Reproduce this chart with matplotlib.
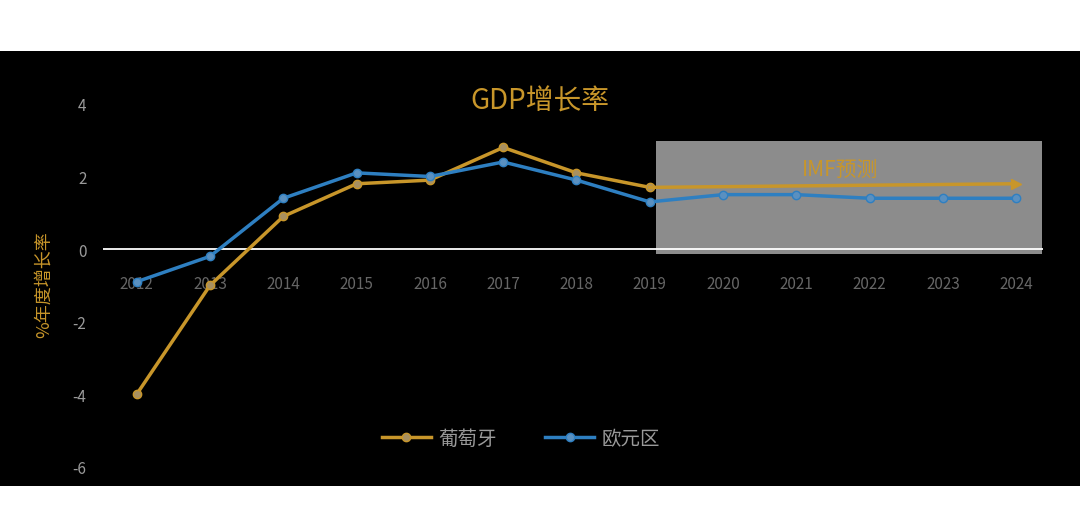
import matplotlib.pyplot as plt
from matplotlib.patches import Rectangle

plt.rcParams['font.family'] = ['Noto Sans CJK SC', 'DejaVu Sans']
plt.rcParams['axes.unicode_minus'] = False

years = [2012, 2013, 2014, 2015, 2016, 2017, 2018, 2019, 2020, 2021, 2022, 2023, 2024]
portugal = [-4.0, -1.0, 0.9, 1.8, 1.9, 2.8, 2.1, 1.7]
portugal_fc_years = [2019, 2024]
portugal_fc = [1.7, 1.8]
euro = [-0.9, -0.2, 1.4, 2.1, 2.0, 2.4, 1.9, 1.3, 1.5, 1.5, 1.4, 1.4, 1.4]
yticks = [-6, -4, -2, 0, 2, 4]

gold = '#c8962a'
blue = '#2e7fc1'
grey = '#9a9a9a'

fig = plt.figure(figsize=(10.8, 5.1), dpi=100, facecolor='white')
fig.add_artist(Rectangle((0, 0.045), 1, 0.853, transform=fig.transFigure,
                         facecolor='black', edgecolor='none', zorder=0))

ax = fig.add_axes([0.0954, 0.0686, 0.870, 0.747])
ax.set_facecolor('none')
ax.set_xlim(2011.54, 2024.36)
ax.set_ylim(-6.2, 4.3)
for s in ax.spines.values():
    s.set_visible(False)
ax.set_xticks([])
ax.set_yticks(yticks)
ax.tick_params(axis='y', length=0, colors=grey, labelsize=11, pad=12)

ax.add_patch(Rectangle((2019.08, -0.14), 5.27, 3.11, facecolor='#8c8c8c',
                       edgecolor='none', zorder=1))
ax.axhline(0, color='white', lw=1.3, zorder=2)

for y in years:
    ax.text(y, -0.95, str(y), color='#666666', ha='center', va='center',
            fontsize=11, zorder=2)

ax.plot(years[:len(portugal)], portugal, color=gold, lw=2.5, marker='o',
        ms=6, mfc='#a89060', mec=gold, zorder=3, label='葡萄牙')
ax.plot(portugal_fc_years, portugal_fc, color=gold, lw=2.5, zorder=3)
ax.plot([2024], [1.8], marker='>', color=gold, ms=7, zorder=3)
ax.plot(years, euro, color=blue, lw=2.5, marker='o', ms=6,
        mfc='#5a90c0', mec=blue, zorder=4, label='欧元区')

ax.text(2017.5, 4.1, 'GDP增长率', color=gold, fontsize=20, ha='center', va='center')
ax.text(2021.6, 2.2, 'IMF预测', color=gold, fontsize=15, ha='center', va='center', zorder=5)
ax.set_ylabel('%年度增长率', color=gold, fontsize=13, labelpad=14)

leg = ax.legend(loc='lower center', bbox_to_anchor=(0.445, 0.02), ncol=2, frameon=False,
                fontsize=14, handlelength=2.5, handletextpad=0.4, columnspacing=2.5)
for t in leg.get_texts():
    t.set_color(grey)

fig.savefig('out.png', dpi=100, facecolor='white')
